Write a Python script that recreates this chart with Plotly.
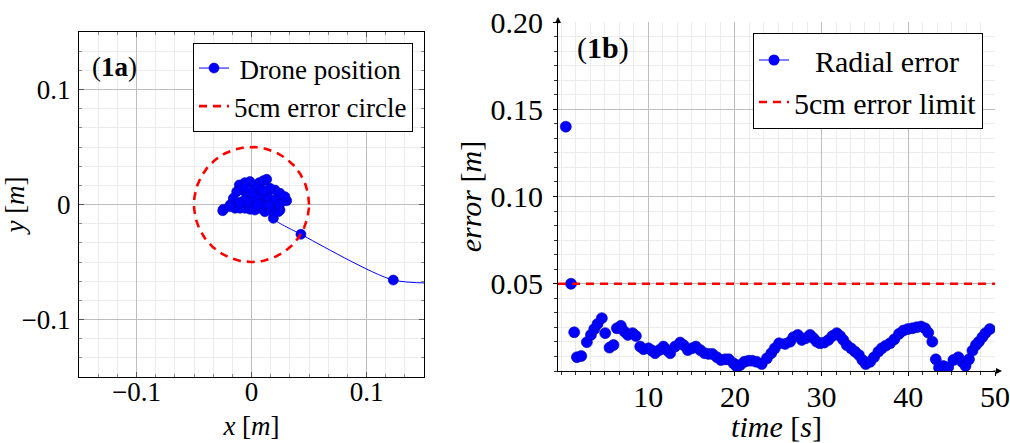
import numpy as np
import plotly.graph_objects as go

# ---------------- Panel (1a): drone positions [m], in flight order ----------------
pos_x = [0.21, 0.1233, 0.043, 0.019, 0.0248, 0.0233, 0.0263, 0.0306, 0.0291, 0.0248,
         0.0204, 0.0161, 0.0132, 0.019, 0.0161, 0.0117, 0.0117, 0.0074, 0.0045, 0.0068,
         0.0103, 0.0132, 0.003, -0.0013, -0.0057, -0.0106, -0.0071, -0.0129, -0.0042, 0.0016,
         0.0059, 0.0074, 0.003, -0.0013, -0.0013, -0.0057, -0.0085, -0.0158, -0.0187, -0.0143,
         -0.01, -0.0245, -0.025, -0.0187, -0.0100, -0.0030, 0.0040, 0.0100, 0.0150, 0.0200,
         0.0240, 0.0150, 0.0060, 0.0000, -0.0060]
pos_y = [-0.068, -0.0657, -0.0259, -0.012, -0.0048, -0.0063, 0.0024, 0.0033, 0.0068, 0.0097,
         0.0126, 0.0141, 0.0083, 0.001, -0.0048, -0.0063, 0.0024, 0.0083, 0.0141, 0.019,
         0.0207, 0.0219, 0.0155, 0.0199, 0.019, 0.017, 0.0126, 0.0111, 0.0068, 0.0097,
         0.0024, -0.0033, -0.0048, 0.0024, -0.0042, -0.0033, 0.0024, 0.0054, -0.0004, -0.0033,
         -0.0033, -0.0042, -0.0054, -0.0020, 0.0010, 0.0030, 0.0060, 0.0120, 0.0050, 0.0040,
         0.0000, -0.0010, 0.0000, 0.0100, 0.0150]
error_radius = 0.05

# ---------------- Panel (1b): radial error over time ----------------
time_s = [0.5, 1.1, 1.47, 1.78, 2.28, 2.93, 3.4, 3.78, 4.16, 4.66,
          5.04, 5.54, 6.0, 6.39, 6.85, 7.27, 7.66, 8.2, 8.58, 9.08,
          9.46, 10.04, 10.43, 10.8, 11.27, 11.76, 12.15, 12.54, 13.1, 13.69,
          14.07, 14.57, 15.03, 15.5, 16.0, 16.5, 16.96, 17.4, 17.92, 18.4,
          18.9, 19.3, 19.84, 20.22, 20.6, 21.1, 21.56, 22.0, 22.5, 23.1,
          23.7, 24.2, 24.6, 25.1, 25.79, 26.37, 26.75, 27.26, 27.72, 28.18,
          28.67, 29.06, 29.44, 29.83, 30.3, 30.79, 31.25, 31.75, 32.13, 32.5,
          32.9, 33.4, 33.86, 34.3, 34.7, 35.1, 35.6, 36.05, 36.55, 36.94,
          37.4, 37.9, 38.4, 38.93, 39.43, 39.94, 40.47, 40.97, 41.47, 41.93,
          42.3, 42.77, 43.17, 43.54, 44.04, 44.6, 45.2, 45.77, 46.2, 46.6,
          47.0, 47.4, 47.8, 48.15, 48.55, 48.9, 49.4]
radial_err = [0.140, 0.050, 0.0222, 0.0079, 0.0086, 0.0165, 0.0207, 0.024, 0.027, 0.0303,
              0.0217, 0.0134, 0.0149, 0.0245, 0.0259, 0.0226, 0.0207, 0.0217, 0.0201, 0.014,
              0.0125, 0.013, 0.0117, 0.0102, 0.012, 0.014, 0.012, 0.0102, 0.014, 0.0163,
              0.0149, 0.012, 0.013, 0.014, 0.012, 0.0102, 0.0098, 0.0098, 0.0079, 0.0063,
              0.0067, 0.0067, 0.0044, 0.0025, 0.0034, 0.0053, 0.0059, 0.0059, 0.0053, 0.004,
              0.0073, 0.0102, 0.013, 0.0159, 0.0155, 0.0168, 0.0194, 0.0207, 0.0178, 0.0188,
              0.0207, 0.0188, 0.0168, 0.0159, 0.0163, 0.0178, 0.0201, 0.0217, 0.0201, 0.0178,
              0.0149, 0.013, 0.0111, 0.0092, 0.0063, 0.004, 0.0053, 0.0079, 0.0111, 0.013,
              0.0145, 0.0159, 0.0182, 0.0213, 0.0232, 0.024, 0.0245, 0.0251, 0.0255, 0.0245,
              0.022, 0.0168, 0.0067, 0.0019, 0.0029, 0.0021, 0.0063, 0.0079, 0.0053, 0.0029,
              0.0067, 0.0117, 0.0149, 0.0168, 0.0194, 0.0217, 0.024]
error_limit = 0.05
time_range = [-0.4, 50]
time_ticks = [10, 20, 30, 40, 50]
err_ticks = [0.05, 0.10, 0.15, 0.20]
err_ticktext = ["0.05", "0.10", "0.15", "0.20"]
pos_ticks = [-0.1, 0, 0.1]
pos_ticktext = ["\u22120.1", "0", "0.1"]

FONT = "Liberation Serif"
BLUE = "#0000ff"
RED = "#ff0000"
MAJ = "#bdbdbd"
MIN = "#ececec"
FA = 27   # left panel font size
FB = 30   # right panel font size

theta = np.linspace(0, 2 * np.pi, 200)
circ_x = error_radius * np.cos(theta)
circ_y = error_radius * np.sin(theta)

fig = go.Figure()

fig.add_trace(go.Scatter(
    x=pos_x, y=pos_y, mode="lines+markers", name="\u2009Drone position",
    line=dict(color=BLUE, width=1, shape="spline", smoothing=0.6),
    marker=dict(color=BLUE, size=10, line=dict(width=0.6, color="#0000b0")),
    xaxis="x", yaxis="y", legend="legend"))
fig.add_trace(go.Scatter(
    x=circ_x, y=circ_y, mode="lines", name="5cm error circle",
    line=dict(color=RED, width=2.6, dash="8px,6px"),
    xaxis="x", yaxis="y", legend="legend"))

fig.add_trace(go.Scatter(
    x=time_s, y=radial_err, mode="markers", name="Radial error", showlegend=False,
    marker=dict(color=BLUE, size=11, line=dict(width=0.6, color="#0000b0")),
    xaxis="x2", yaxis="y2"))
fig.add_trace(go.Scatter(
    x=[None], y=[None], mode="lines+markers", name="\u2002\u2009Radial error",
    line=dict(color=BLUE, width=1), marker=dict(color=BLUE, size=11),
    xaxis="x2", yaxis="y2", legend="legend2"))
fig.add_trace(go.Scatter(
    x=time_range, y=[error_limit, error_limit], mode="lines", name="5cm error limit",
    line=dict(color=RED, width=2.6, dash="8px,6px"),
    xaxis="x2", yaxis="y2", legend="legend2"))

W, H = 1010, 443
def px_x(p): return p / W
def px_y(p): return (H - p) / H

def base(fs):
    return dict(showline=True, linecolor="black", linewidth=1, showgrid=True,
                gridcolor=MAJ, gridwidth=1, zeroline=False, automargin=False,
                ticklabeloverflow="allow",
                tickfont=dict(family=FONT, size=fs, color="black"))

def ttl(text, fs, standoff):
    return dict(text=text, font=dict(family=FONT, size=fs, color="black"), standoff=standoff)

fig.update_layout(
    width=W, height=H, autosize=False,
    margin=dict(l=0, r=0, t=0, b=0, autoexpand=False),
    paper_bgcolor="white", plot_bgcolor="white",
    font=dict(family=FONT, size=FA, color="black"),
    xaxis=dict(domain=[px_x(79), px_x(424)], range=[-0.15, 0.15],
               tickvals=pos_ticks, ticktext=pos_ticktext,
               ticks="inside", ticklen=5, tickcolor="#555", mirror="allticks",
               minor=dict(tickmode="linear", tick0=0, dtick=0.1 / 6, ticks="inside", ticklen=3,
                          tickcolor="#888", showgrid=True, gridcolor=MIN),
               ticklabelstandoff=-9,
               title=ttl("<i>x</i> [<i>m</i>]", FA, 9),
               anchor="y", **base(FA)),
    yaxis=dict(domain=[px_y(377), px_y(32)], range=[-0.15, 0.15],
               tickvals=pos_ticks, ticktext=pos_ticktext,
               ticks="inside", ticklen=5, tickcolor="#555", mirror="allticks",
               minor=dict(tickmode="linear", tick0=0, dtick=0.1 / 6, ticks="inside", ticklen=3,
                          tickcolor="#888", showgrid=True, gridcolor=MIN),
               ticklabelstandoff=2,
               title=ttl("<i>y</i> [<i>m</i>]", FA, 10),
               anchor="x", **base(FA)),
    xaxis2=dict(domain=[px_x(558), px_x(995)], range=time_range,
                tickvals=time_ticks,
                ticks="outside", ticklen=4, tickcolor="black",
                minor=dict(tickmode="linear", tick0=0, dtick=10 / 6, ticks="outside", ticklen=3,
                           tickcolor="#333", showgrid=True, gridcolor=MIN),
                ticklabelstandoff=-5,
                title=ttl("<i>time</i> [<i>s</i>]", FB, 0),
                anchor="y2", **base(FB)),
    yaxis2=dict(domain=[px_y(371), px_y(22)], range=[0, 0.2],
                tickvals=err_ticks, ticktext=err_ticktext,
                ticks="outside", ticklen=4, tickcolor="black",
                minor=dict(tickmode="linear", tick0=0, dtick=0.05 / 6, ticks="outside", ticklen=3,
                           tickcolor="#333", showgrid=True, gridcolor=MIN),
                ticklabelstandoff=4,
                title=ttl("<i>error</i> [<i>m</i>]", FB, 0),
                anchor="x2", **base(FB)),
    legend=dict(x=px_x(413), y=px_y(43), xanchor="right", yanchor="top",
                bgcolor="white", bordercolor="black", borderwidth=1,
                font=dict(family=FONT, size=FA, color="black"),
                tracegroupgap=0, itemwidth=30),
    legend2=dict(x=px_x(983), y=px_y(33), xanchor="right", yanchor="top",
                 bgcolor="white", bordercolor="black", borderwidth=1,
                 font=dict(family=FONT, size=FB, color="black"),
                 tracegroupgap=0, itemwidth=30),
    showlegend=True,
)

fig.add_annotation(text="(<b>1a</b>)", xref="paper", yref="paper",
                   x=px_x(90), y=px_y(67), xanchor="left", yanchor="middle",
                   showarrow=False, font=dict(family=FONT, size=FA, color="black"))
fig.add_annotation(text="(<b>1b</b>)", xref="paper", yref="paper",
                   x=px_x(575), y=px_y(48), xanchor="left", yanchor="middle",
                   showarrow=False, font=dict(family=FONT, size=FB, color="black"))

# axis arrow tips of panel (1b)
fig.add_annotation(x=px_x(1002), y=px_y(371), xref="paper", yref="paper",
                   ax=-10, ay=0, showarrow=True, arrowhead=2, arrowsize=1.2,
                   arrowwidth=1, arrowcolor="black", text="")
fig.add_annotation(x=px_x(558), y=px_y(17), xref="paper", yref="paper",
                   ax=0, ay=8, showarrow=True, arrowhead=2, arrowsize=1.2,
                   arrowwidth=1, arrowcolor="black", text="")

# remove the browser's default page margin so the figure fills the window exactly
fig.write_html("out.html", config={"displayModeBar": False},
               post_script="document.body.style.margin='0';")
